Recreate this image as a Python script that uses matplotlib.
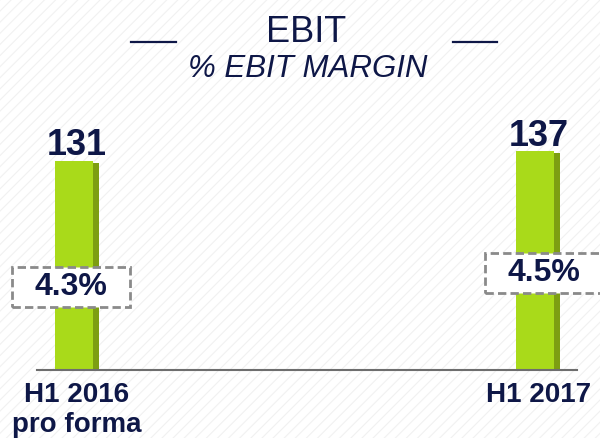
"""EBIT bar chart with EBIT margin call-outs."""

import matplotlib

matplotlib.use("Agg")
import matplotlib.pyplot as plt
from matplotlib.patches import Rectangle
from matplotlib.lines import Line2D

periods = ["H1 2016\npro forma", "H1 2017"]
ebit = [131, 137]
margin_labels = ["4.3%", "4.5%"]

# layout (not data): call-out box centre heights in data units, x shift in data units
box_y = [52, 61]
box_dx = [-0.006, 0.018]

NAVY = "#0E1747"
GREEN = "#A9DA1A"
GREEN_SIDE = "#7D9E12"
BOX_EDGE = "#8A8A8A"

plt.rcParams["font.family"] = ["Liberation Sans", "DejaVu Sans"]
plt.rcParams["hatch.linewidth"] = 0.8

fig = plt.figure(figsize=(6.0, 4.38), dpi=100)
fig.patch.set_facecolor("white")
fig.add_artist(Rectangle((0, 0), 1, 1, transform=fig.transFigure,
                         facecolor="white", edgecolor="#F1F1F1", hatch="///",
                         linewidth=0, zorder=-10))

ax = fig.add_axes([37 / 600, 68 / 438, 540 / 600, 239.3 / 438])
ax.set_facecolor("none")
ax.set_xlim(-0.080, 1.090)
ax.set_ylim(0, 150)

x = range(len(periods))
face_w = 0.0823
side_w = 0.013
ax.bar([i + face_w / 2 + side_w / 2 for i in x], [v - 1 for v in ebit], width=side_w,
       color=GREEN_SIDE, zorder=2)
ax.bar(list(x), ebit, width=face_w, color=GREEN, zorder=3)

for i, v in zip(x, ebit):
    ax.annotate(str(v), (i + side_w / 2, v), xytext=(0, 4), textcoords="offset points",
                ha="center", va="baseline", fontsize=26, fontweight="bold", color=NAVY,
                zorder=5)

box_w = 118 / 461.5
box_h = 40 / 1.595
for i, label in enumerate(margin_labels):
    cx = i + box_dx[i]
    ax.add_patch(Rectangle((cx - box_w / 2, box_y[i] - box_h / 2), box_w, box_h,
                           facecolor="white", edgecolor=BOX_EDGE, linewidth=2,
                           linestyle=(0, (3, 1.5)), zorder=4, clip_on=False))
    ax.text(cx, box_y[i], label, ha="center", va="center", fontsize=23,
            fontweight="bold", color=NAVY, zorder=5, clip_on=False)

for side in ["top", "left", "right"]:
    ax.spines[side].set_visible(False)
ax.spines["bottom"].set_color("#6E6E6E")
ax.spines["bottom"].set_linewidth(1.5)
ax.spines["bottom"].set_zorder(6)
ax.set_yticks([])
ax.set_xticks([i + side_w / 2 for i in x])
ax.set_xticklabels(periods, fontsize=20, fontweight="bold", color=NAVY,
                   va="top", linespacing=1.15)
ax.tick_params(axis="x", length=0, pad=9)

fig.text(306 / 600, 1 - 42 / 438, "EBIT", ha="center", va="baseline", fontsize=26,
         color=NAVY)
fig.text(308 / 600, 1 - 77 / 438, "% EBIT MARGIN", ha="center", va="baseline",
         fontsize=22.5, style="italic", color=NAVY)
for x0, x1 in [(131, 176), (453, 497)]:
    fig.add_artist(Line2D([x0 / 600, x1 / 600], [1 - 42 / 438] * 2,
                          transform=fig.transFigure, color=NAVY, linewidth=1.6))

fig.savefig("out.png", dpi=100)
